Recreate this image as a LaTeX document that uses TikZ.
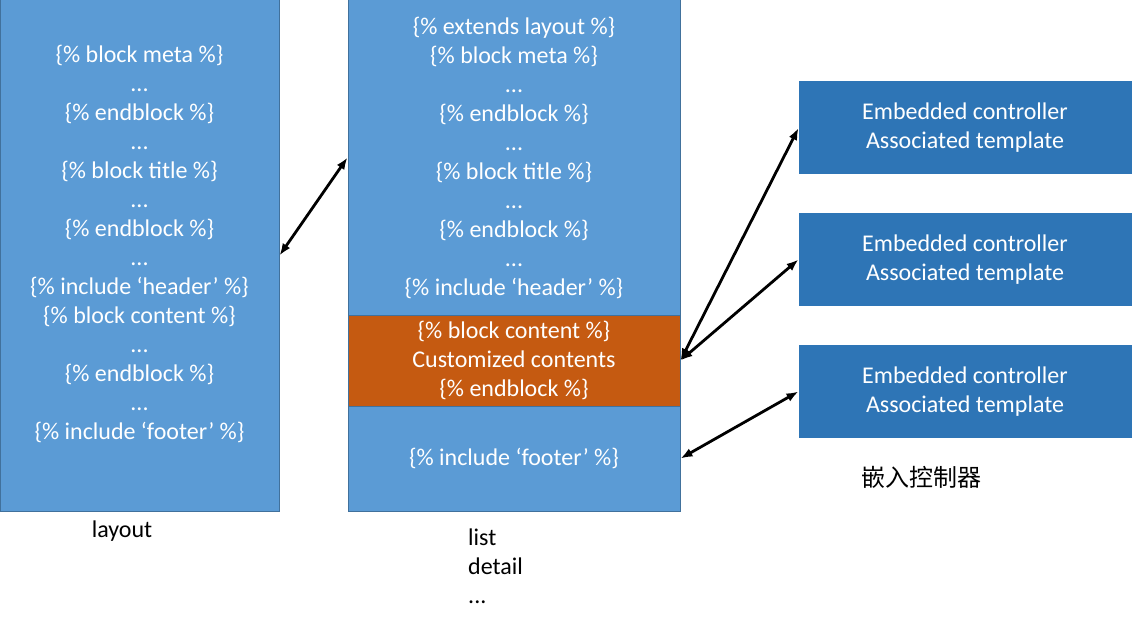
\documentclass[tikz,border=0pt]{standalone}
\usepackage{fontspec}
\setmainfont{Carlito}
\newfontfamily\cjk{Noto Sans CJK SC}
\usetikzlibrary{arrows.meta}
\definecolor{boxblue}{HTML}{5B9BD5}
\definecolor{edgeblue}{HTML}{41719C}
\definecolor{darkblue}{HTML}{2E75B6}
\definecolor{boxorange}{HTML}{C55A11}
\tikzset{
  blk/.style={draw=edgeblue, fill=boxblue, line width=1pt, inner sep=0pt},
  txt/.style={text=white, align=center, font=\fontsize{24}{29}\selectfont},
  lbl/.style={font=\fontsize{24}{29}\selectfont, align=left},
  link/.style={{Latex[length=12pt,width=9pt]}-{Latex[length=12pt,width=9pt]}, line width=2.8pt},
}
\begin{document}
\begin{tikzpicture}[x=1pt,y=-1pt]
\useasboundingbox (0,0) rectangle (1132,644);
% layout page
\node[blk, minimum width=279pt, minimum height=511pt] (layout) at (139.5,255.5) {};
\node[txt] (layouttxt) at (139.5,244) {\{\% block meta \%\}\\...\\\{\% endblock \%\}\\...\\\{\% block title \%\}\\...\\\{\% endblock \%\}\\...\\\{\% include ‘header’ \%\}\\\{\% block content \%\}\\...\\\{\% endblock \%\}\\...\\\{\% include ‘footer’ \%\}};
% child page
\node[blk, txt, minimum width=332pt, minimum height=315pt] (top) at (514,157.5) {\{\% extends layout \%\}\\\{\% block meta \%\}\\...\\\{\% endblock \%\}\\...\\\{\% block title \%\}\\...\\\{\% endblock \%\}\\...\\\{\% include ‘header’ \%\}};
\node[blk, txt, fill=boxorange, minimum width=332pt, minimum height=91pt] (content) at (514,360.5) {\{\% block content \%\}\\Customized contents\\\{\% endblock \%\}};
\node[blk, txt, minimum width=332pt, minimum height=105pt] (foot) at (514,458.5) {\{\% include ‘footer’ \%\}};
% embedded controllers
\node[blk, txt, draw=darkblue, fill=darkblue, minimum width=332pt, minimum height=92pt] (emb1) at (965,128) {Embedded controller\\Associated template};
\node[blk, txt, draw=darkblue, fill=darkblue, minimum width=332pt, minimum height=92pt] (emb2) at (965,259.5) {Embedded controller\\Associated template};
\node[blk, txt, draw=darkblue, fill=darkblue, minimum width=332pt, minimum height=92pt] (emb3) at (965,391.5) {Embedded controller\\Associated template};
\node[lbl] (layoutlbl) at (122,531) {layout};
\node[lbl, anchor=north west, inner sep=0pt] (pagelbl) at (468,529) {list\\detail\\...};
\node[lbl] (emblbl) at (921,477) {\cjk 嵌入控制器};
\draw[link] (layout.east) -- (top.west);
\draw[link] (content.east) -- (emb1.west);
\draw[link] (content.east) -- (emb2.west);
\draw[link] (foot.east) -- (emb3.west);
\end{tikzpicture}
\end{document}
